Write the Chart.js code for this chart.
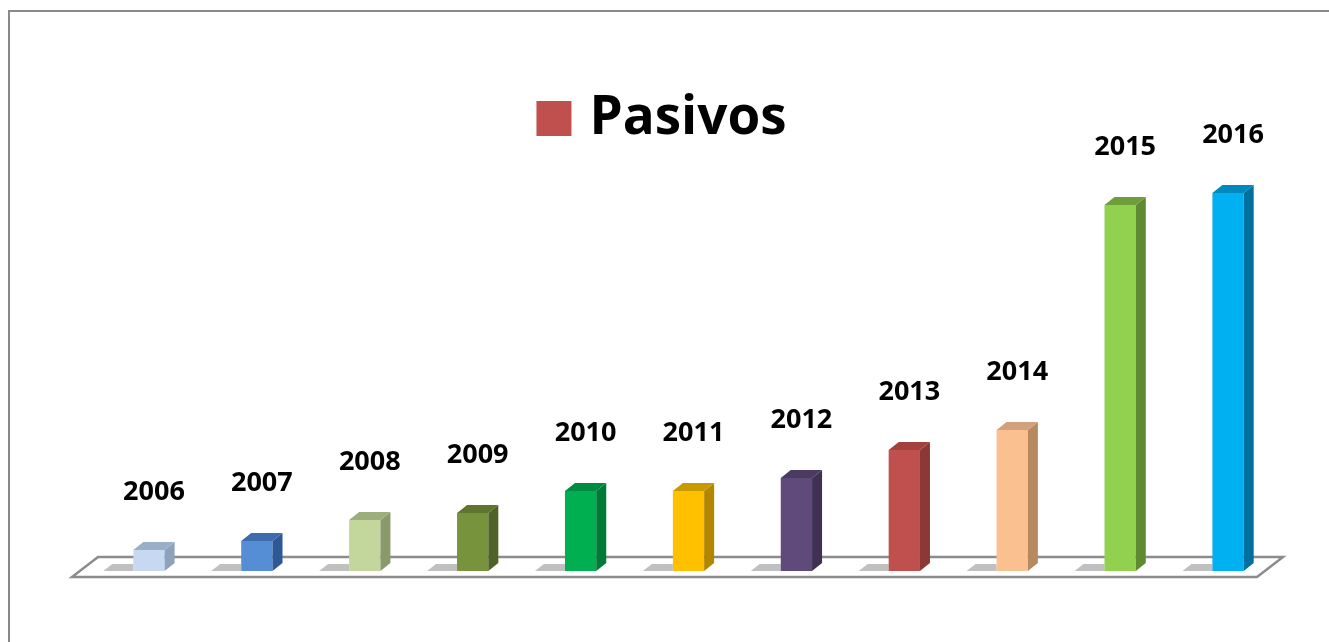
<!DOCTYPE html>
<html lang="es">
<head>
<meta charset="UTF-8">
<title>Pasivos</title>
<script src="https://cdn.jsdelivr.net/npm/chart.js"></script>
<style>
  html, body { margin: 0; padding: 0; background: #fff; }
  #wrap { position: relative; width: 1329px; height: 642px; }
</style>
</head>
<body>
<div id="wrap"><canvas id="chart" width="1329" height="642"></canvas></div>
<script>
// datos (unidades aproximadas)
const years = ['2006', '2007', '2008', '2009', '2010', '2011', '2012', '2013', '2014', '2015', '2016'];
const pasivos = [21, 30, 51, 58, 80, 80, 93, 121, 141, 366, 378];
const frontColors = ['#C6D9F1', '#558ED5', '#C3D69B', '#77933C', '#00B050', '#FFC000', '#604A7B', '#C0504D', '#FAC090', '#92D050', '#00B0F0'];
const sideColors = ['#8EA2BC', '#2F5896', '#8A9A6C', '#4F6228', '#007A37', '#B38600', '#3F3151', '#8C3836', '#B8895F', '#5F8A30', '#0070A0'];
const topColors = ['#9AAFC8', '#3E6BAE', '#9DAE7C', '#5E7530', '#008C40', '#C99A00', '#4B3A61', '#A4403D', '#D2A07A', '#6E9E3A', '#0089BE'];
const seriesName = 'Pasivos';
const legendColor = '#C0504D';

const DX = 10, DY = 8; // profundidad del efecto 3D

// marco gris + leyenda
const framePlugin = {
  id: 'frame',
  beforeDraw(chart) {
    const ctx = chart.ctx;
    ctx.save();
    ctx.strokeStyle = '#898989';
    ctx.lineWidth = 2;
    ctx.beginPath();
    ctx.moveTo(9, 642);
    ctx.lineTo(9, 11);
    ctx.lineTo(1329, 11);
    ctx.stroke();

    // leyenda centrada arriba
    ctx.font = 'bold 53px "Open Sans"';
    const tw = ctx.measureText(seriesName).width;
    const total = 35 + 18 + tw;
    const x0 = 661.5 - total / 2;
    ctx.fillStyle = legendColor;
    ctx.fillRect(x0, 101, 35, 35);
    ctx.fillStyle = '#000';
    ctx.textAlign = 'left';
    ctx.textBaseline = 'middle';
    ctx.fillText(seriesName, x0 + 53, 119);
    ctx.restore();
  }
};

// suelo en perspectiva y sombras
const floorPlugin = {
  id: 'floor',
  beforeDatasetsDraw(chart) {
    const ctx = chart.ctx;
    const a = chart.chartArea;
    const base = a.bottom;
    ctx.save();
    ctx.strokeStyle = '#8C8C8C';
    ctx.lineWidth = 2.5;
    ctx.beginPath();
    ctx.moveTo(a.left - 23, base + 6);
    ctx.lineTo(a.right - 25, base + 6);
    ctx.lineTo(a.right + 1, base - 14);
    ctx.lineTo(a.left + 3, base - 14);
    ctx.closePath();
    ctx.stroke();
    ctx.fillStyle = '#C0C0C0';
    chart.getDatasetMeta(0).data.forEach(bar => {
      const l = bar.x - bar.width / 2;
      ctx.beginPath();
      ctx.moveTo(l - 30, base);
      ctx.lineTo(l, base);
      ctx.lineTo(l, base - 7);
      ctx.lineTo(l - 21, base - 7);
      ctx.closePath();
      ctx.fill();
    });
    ctx.restore();
  }
};

// caras laterales/superiores y etiquetas de año
const barPlugin = {
  id: 'bars3d',
  afterDatasetsDraw(chart) {
    const ctx = chart.ctx;
    ctx.save();
    chart.getDatasetMeta(0).data.forEach((bar, i) => {
      const l = bar.x - bar.width / 2, r = bar.x + bar.width / 2;
      const t = bar.y, b = bar.base;
      ctx.fillStyle = sideColors[i];
      ctx.beginPath();
      ctx.moveTo(r, t);
      ctx.lineTo(r + DX, t - DY);
      ctx.lineTo(r + DX, b - DY);
      ctx.lineTo(r, b);
      ctx.closePath();
      ctx.fill();
      ctx.fillStyle = topColors[i];
      ctx.beginPath();
      ctx.moveTo(l, t);
      ctx.lineTo(l + DX, t - DY);
      ctx.lineTo(r + DX, t - DY);
      ctx.lineTo(r, t);
      ctx.closePath();
      ctx.fill();

      ctx.fillStyle = '#000';
      ctx.font = 'bold 27px "Open Sans"';
      ctx.textAlign = 'center';
      ctx.textBaseline = 'middle';
      ctx.fillText(years[i], bar.x + 5, t - 58);
    });
    ctx.restore();
  }
};

new Chart(document.getElementById('chart'), {
  type: 'bar',
  data: {
    labels: years,
    datasets: [{
      label: seriesName,
      data: pasivos,
      backgroundColor: frontColors,
      borderWidth: 0,
      barPercentage: 0.29,
      categoryPercentage: 1
    }]
  },
  options: {
    responsive: false,
    animation: false,
    layout: { padding: { left: 95, right: 47, top: 171, bottom: 71 } },
    scales: {
      x: { display: false },
      y: { display: false, min: 0, max: 400 }
    },
    plugins: {
      tooltip: { enabled: false },
      legend: { display: false }
    }
  },
  plugins: [framePlugin, floorPlugin, barPlugin]
});
</script>
</body>
</html>
